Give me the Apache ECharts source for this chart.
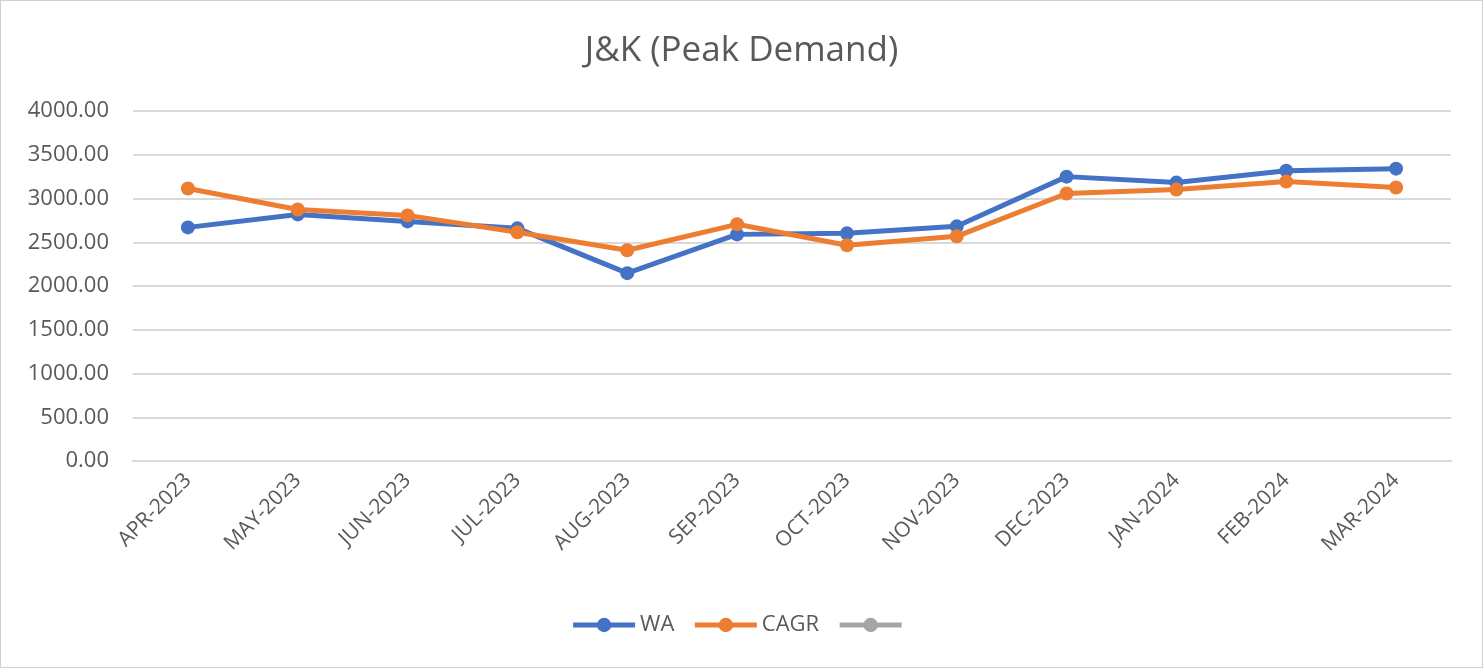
<!DOCTYPE html>
<html>
<head>
<meta charset="utf-8">
<script src="https://cdn.jsdelivr.net/npm/echarts@6/dist/echarts.min.js"></script>
<style>
  html, body { margin: 0; padding: 0; background: #fff; }
  #chart { position: absolute; left: 0; top: 0; width: 1481px; height: 666px; border: 1px solid #d0d0d0; }
</style>
</head>
<body>
<div id="chart"></div>
<script>
const months = ["APR-2023", "MAY-2023", "JUN-2023", "JUL-2023", "AUG-2023", "SEP-2023",
  "OCT-2023", "NOV-2023", "DEC-2023", "JAN-2024", "FEB-2024", "MAR-2024"];
const waValues = [2670, 2818, 2738, 2659, 2147, 2590, 2602, 2682, 3250, 3182, 3318, 3341];
const cagrValues = [3114, 2875, 2807, 2614, 2409, 2705, 2466, 2568, 3057, 3102, 3193, 3125];
const yTicks = { min: 0, max: 4000, interval: 500 };

const font = "'Open Sans', 'Liberation Sans', sans-serif";
const textColor = "#595959";

function lineSeries(name, color, data) {
  return {
    name: name,
    type: "line",
    data: data,
    symbol: "circle",
    symbolSize: 14,
    lineStyle: { width: 5, color: color },
    itemStyle: { color: color },
  };
}

echarts.init(document.getElementById("chart")).setOption({
  animation: false,
  title: {
    text: "J&K (Peak Demand)",
    left: "center",
    top: 28,
    textStyle: { fontFamily: font, fontSize: 35, fontWeight: "normal", color: textColor },
  },
  legend: {
    bottom: 26,
    left: "center",
    itemWidth: 62,
    itemHeight: 18,
    itemGap: 18,
    lineStyle: { width: 5 },
    textStyle: { fontFamily: font, fontSize: 22, color: textColor },
    data: ["WA", "CAGR", " "],
  },
  grid: { left: 132, right: 31, top: 110, bottom: 206 },
  xAxis: {
    type: "category",
    data: months,
    axisLine: { lineStyle: { color: "#d9d9d9", width: 2 } },
    axisTick: { show: false },
    axisLabel: { rotate: 45, fontFamily: font, fontSize: 21, color: textColor, margin: 16 },
  },
  yAxis: {
    type: "value",
    min: yTicks.min,
    max: yTicks.max,
    interval: yTicks.interval,
    axisLine: { show: false },
    axisTick: { show: false },
    splitLine: { lineStyle: { color: "#d9d9d9", width: 2 } },
    axisLabel: {
      fontFamily: font, fontSize: 22, color: textColor, margin: 24,
      formatter: (v) => v.toFixed(2),
    },
  },
  series: [
    lineSeries("WA", "#4472c4", waValues),
    lineSeries("CAGR", "#ed7d31", cagrValues),
    lineSeries(" ", "#a5a5a5", []),
  ],
});
</script>
</body>
</html>
